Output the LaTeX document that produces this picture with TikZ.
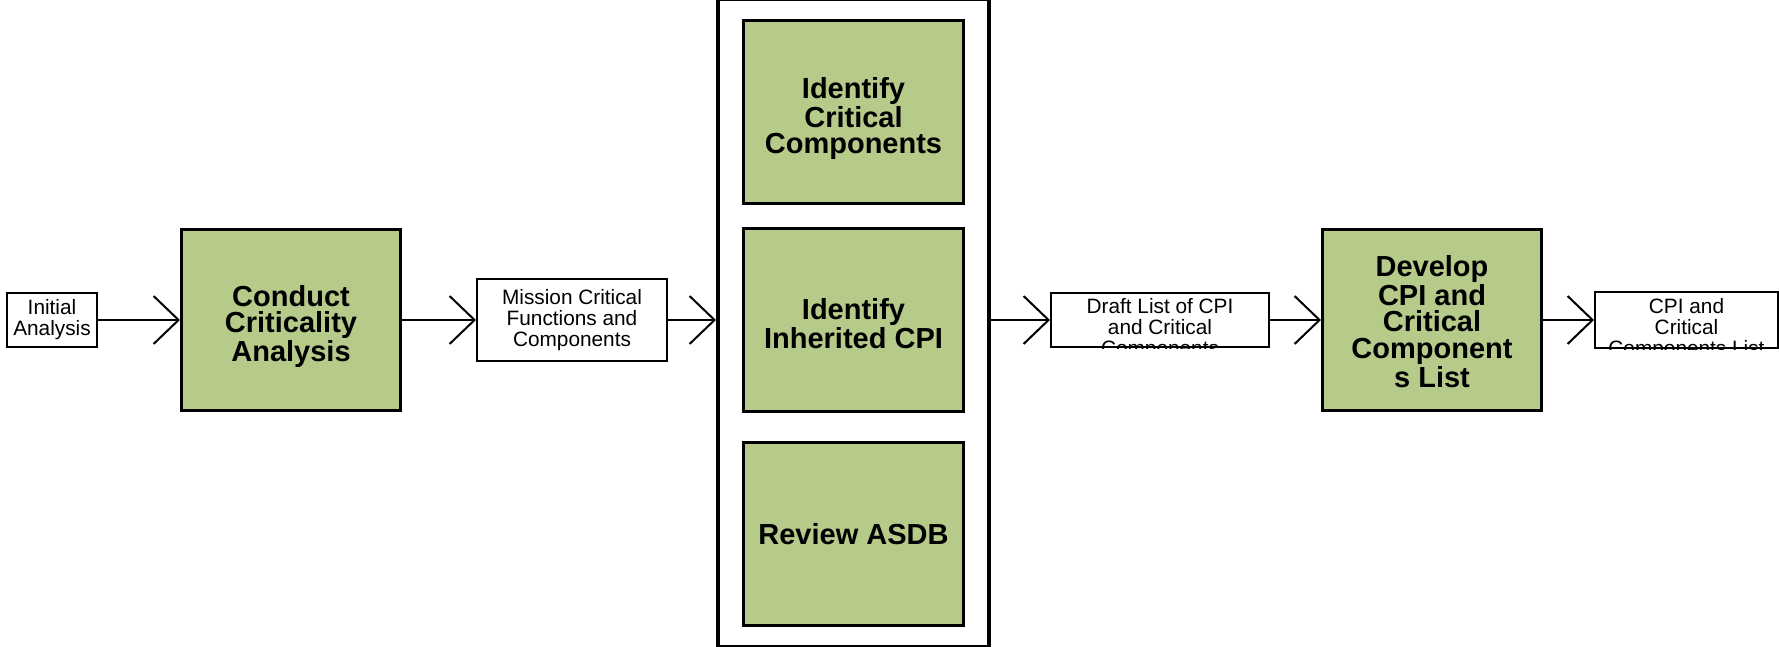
\documentclass[tikz,border=0pt]{standalone}
\usepackage{fontspec}
\setmainfont{Liberation Sans}
\usetikzlibrary{arrows.meta, positioning, fit}
\definecolor{gFill}{RGB}{182,202,137}

\begin{document}
\begin{tikzpicture}[font=\fontsize{10.4}{10.6}\selectfont,
    GBOX/.style={draw, line width=1.5pt, fill=gFill, minimum width=109.5pt, minimum height=90.5pt, align=center, inner sep=0pt, font=\bfseries\fontsize{14.5}{13.4}\selectfont},
    SBOX/.style={draw, line width=1pt, align=center, inner sep=0pt},
    ARR/.style={-{Straight Barb[length=12.5pt,width=24pt]}, line width=1pt}]
    \useasboundingbox (0,0) rectangle (889.5pt,-323.5pt);
    \node[SBOX, minimum width=45pt, minimum height=27pt] (init) at (26pt,-160pt) {Initial\\Analysis};
    \node[GBOX, right=41pt of init] (conduct) {\rule{0pt}{17pt}Conduct\\Criticality\\Analysis};
    \node[SBOX, minimum width=95pt, minimum height=41pt, right=37pt of conduct] (mission) {Mission Critical\\Functions and\\Components};
    % stacked steps in the frame
    \node[GBOX, minimum width=110pt, minimum height=91.5pt, right=37pt of mission] (idcpi) {\rule{0pt}{14pt}Identify\\Inherited CPI};
    \node[GBOX, minimum width=110pt, minimum height=91.5pt, above=11pt of idcpi] (idcomp) {\rule{0pt}{17pt}Identify\\Critical\\Components};
    \node[GBOX, minimum width=110pt, minimum height=91.5pt, below=14pt of idcpi] (asdb) {Review ASDB};
    \node[draw, line width=2pt, inner xsep=12pt, inner ysep=10pt, fit=(idcomp)(asdb)] (outer) {};
    \node[SBOX, minimum width=109pt, minimum height=27pt, right=42.5pt of idcpi] (draft) {};
    \node[GBOX, right=25.5pt of draft] (develop) {\rule{0pt}{12pt}Develop\\CPI and\\Critical\\Component\\s List};
    \node[SBOX, minimum width=91.5pt, minimum height=28pt, right=25.5pt of develop] (cpilist) {};
    % texts cut off by their boxes
    \begin{scope}
        \clip (draft.south west) rectangle (draft.north east);
        \node[inner sep=0pt, align=center, below=3pt of draft.north] (drafttxt) {Draft List of CPI\\and Critical\\Components};
    \end{scope}
    \begin{scope}
        \clip (cpilist.south west) rectangle (cpilist.north east);
        \node[inner sep=0pt, align=center, below=3.5pt of cpilist.north] (cpitxt) {CPI and\\Critical\\Components List};
    \end{scope}
    \draw[ARR] (init) -- (conduct); \draw[ARR] (conduct) -- (mission);
    \draw[ARR] (mission.east) -- (mission.east -| outer.west);
    \draw[ARR] (outer.east |- draft.west) -- (draft.west);
    \draw[ARR] (draft) -- (develop); \draw[ARR] (develop) -- (cpilist);
\end{tikzpicture}
\end{document}
